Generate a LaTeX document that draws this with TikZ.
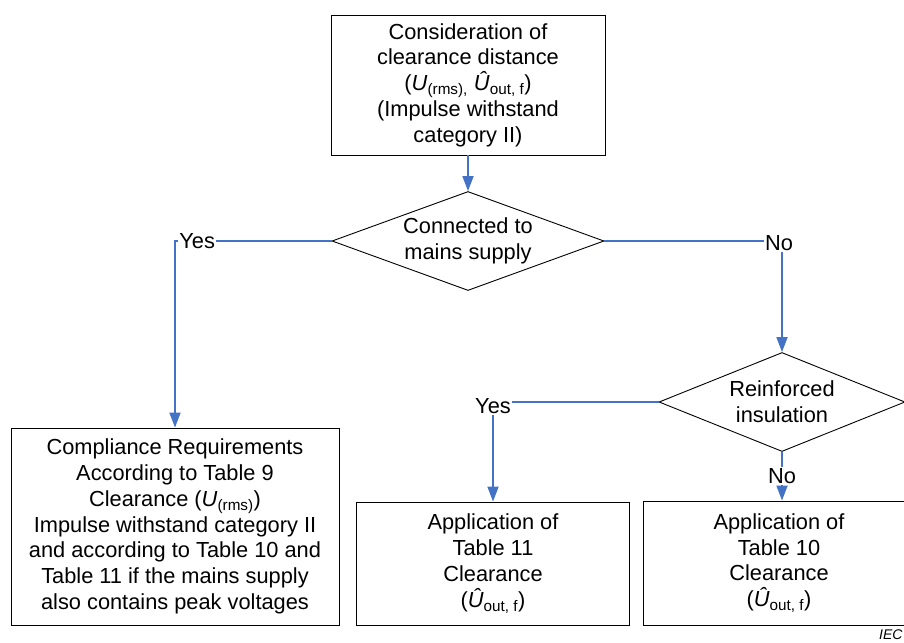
\documentclass[tikz,border=0pt]{standalone}
\usepackage{fontspec}
\setmainfont{Liberation Sans}
\usetikzlibrary{shapes.geometric,arrows.meta}
\definecolor{conblue}{HTML}{4472C4}
\tikzset{
  box/.style={draw=black, line width=0.9pt, rectangle, inner sep=0pt, align=center,
    font=\fontsize{21.8}{25.8}\selectfont},
  dia/.style={draw=black, line width=0.9pt, diamond, inner sep=0pt},
  diatext/.style={align=center, inner sep=0pt, font=\fontsize{21.8}{25.8}\selectfont},
  conn/.style={draw=conblue, line width=1.8pt, -{Triangle[width=11pt,length=15pt]}},
  lbl/.style={fill=white, inner sep=1.5pt, text=black, font=\fontsize{21.8}{25.8}\selectfont}
}
\newcommand{\Uhat}{\textit{Û}}
\begin{document}
\begin{tikzpicture}[x=1pt,y=-1pt]
\useasboundingbox (0,0) rectangle (904,642);
\node[box, minimum width=274pt, minimum height=140pt] (top) at (468,85)
  {Consideration of\\clearance distance\\(\textit{U}\textsubscript{(rms),} \Uhat\textsubscript{out, f})\\(Impulse withstand\\category II)};
\node[dia, minimum width=272pt, minimum height=99pt] (d1) at (468,241) {};
\node[diatext] (d1t) at (d1.center) {Connected to\\mains supply};
\node[dia, minimum width=246pt, minimum height=99pt] (d2) at (782,402) {};
\node[diatext] (d2t) at (d2.center) {Reinforced\\insulation};
\node[box, minimum width=328pt, minimum height=197pt] (left) at (175,526.5)
  {Compliance Requirements\\According to Table 9\\Clearance (\textit{U}\textsubscript{(rms)})\\Impulse withstand category II\\and according to Table 10 and\\Table 11 if the mains supply\\also contains peak voltages};
\node[box, minimum width=273pt, minimum height=123pt] (mid) at (493,563.5)
  {Application of\\Table 11\\Clearance\\(\Uhat\textsubscript{out, f})};
\node[box, minimum width=272pt, minimum height=124pt] (right) at (779,563)
  {Application of\\Table 10\\Clearance\\(\Uhat\textsubscript{out, f})};
\node[anchor=base west, inner sep=0pt, font=\fontsize{14}{16}\selectfont\itshape] (iec) at (879,639) {IEC};
\draw[conn] (top.south) -- (d1.north);
\draw[conn] (d1.west) -| node[pos=0.5, lbl, anchor=west, xshift=2pt] {Yes} (left.north);
\draw[conn] (d1.east) -| node[pos=0.5, lbl, yshift=-2pt, xshift=-3pt] {No} (d2.north);
\draw[conn] (d2.west) -| node[pos=0.5, lbl, yshift=-4pt] {Yes} (mid.north);
\draw[conn] (d2.south) -- node[pos=0.5, lbl] {No} (d2.south |- right.north);
\end{tikzpicture}
\end{document}
